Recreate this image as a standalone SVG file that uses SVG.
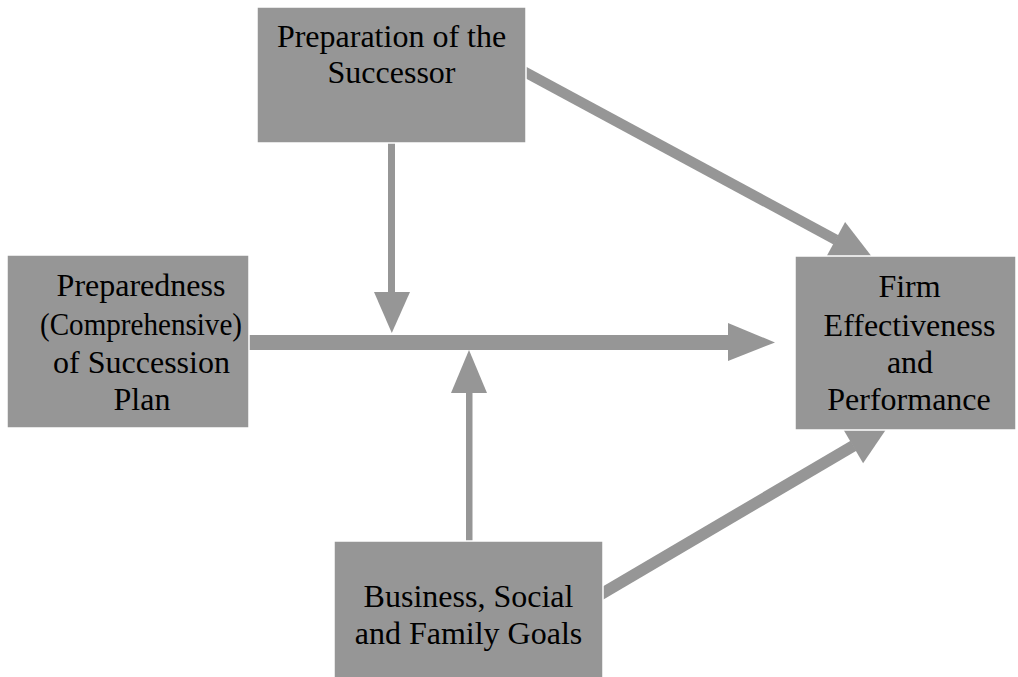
<svg xmlns="http://www.w3.org/2000/svg" width="1018" height="677" viewBox="0 0 1018 677">
<style>
.box{fill:#969696;stroke:#ffffff;stroke-width:1.5}
.shaft{stroke:#969696;fill:none}
.head{fill:#969696;stroke:none}
.lbl{font-family:"Liberation Serif","Times New Roman",serif;font-size:32px;fill:#000;text-anchor:middle}
</style>
<rect width="1018" height="677" fill="#ffffff"/>
<g id="connectors">
  <g id="c-prep-succ-firm">
    <line class="shaft" x1="520" y1="69.3" x2="836" y2="239.8" stroke-width="10.5"/>
    <polygon class="head" points="845.1,222 875.2,261 826.1,257.2"/>
  </g>
  <g id="c-goals-firm">
    <line class="shaft" x1="595" y1="597.7" x2="853.5" y2="445.7" stroke-width="11.5"/>
    <polygon class="head" points="863.1,463.2 889.2,424.7 842.9,428.8"/>
  </g>
  <g id="c-plan-firm">
    <rect class="head" x="249" y="335" width="482" height="15"/>
    <polygon class="head" points="728,323 775,342.5 728,361"/>
  </g>
  <g id="c-succ-moderator">
    <rect class="head" x="388" y="143" width="7" height="150"/>
    <polygon class="head" points="374,292 410,292 391.8,333"/>
  </g>
  <g id="c-goals-moderator">
    <rect class="head" x="466" y="392" width="6.5" height="150"/>
    <polygon class="head" points="451,393 487,393 469,350"/>
  </g>
</g>
<g id="node-successor">
  <rect class="box" x="257" y="7" width="269" height="136"/>
  <text class="lbl" x="391.5" y="47">Preparation of the</text>
  <text class="lbl" x="391.5" y="83">Successor</text>
</g>
<g id="node-plan">
  <rect class="box" x="7" y="255" width="242" height="173"/>
  <text class="lbl" x="141" y="296">Preparedness</text>
  <text class="lbl" x="141" y="335" textLength="202" lengthAdjust="spacingAndGlyphs">(Comprehensive)</text>
  <text class="lbl" x="141.5" y="373">of Succession</text>
  <text class="lbl" x="142" y="410">Plan</text>
</g>
<g id="node-firm">
  <rect class="box" x="795" y="256" width="221" height="174"/>
  <text class="lbl" x="909.5" y="297">Firm</text>
  <text class="lbl" x="909.5" y="336">Effectiveness</text>
  <text class="lbl" x="910" y="373">and</text>
  <text class="lbl" x="909" y="410">Performance</text>
</g>
<g id="node-goals">
  <rect class="box" x="334" y="541" width="269" height="137"/>
  <text class="lbl" x="468.5" y="607">Business, Social</text>
  <text class="lbl" x="468.5" y="644">and Family Goals</text>
</g>
</svg>
